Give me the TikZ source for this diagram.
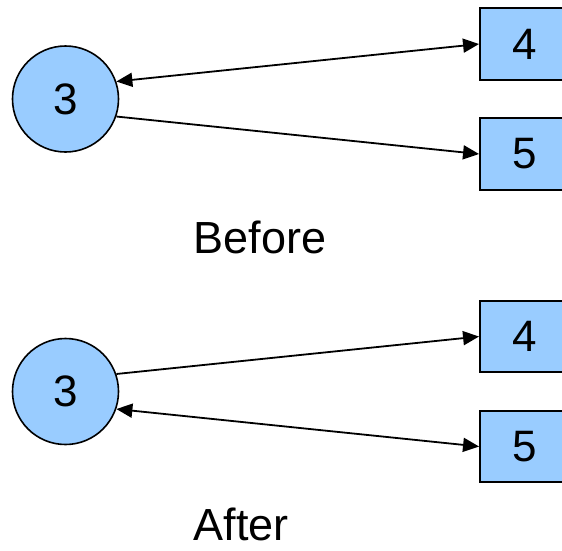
\documentclass[tikz,border=0pt]{standalone}
\usepackage{fontspec}
\setmainfont{Liberation Sans}
\usetikzlibrary{arrows.meta}
\definecolor{cellblue}{HTML}{99CCFF}

\begin{document}
\begin{tikzpicture}[x=1pt,y=-1pt,
  >={Triangle[length=16pt,width=14pt]},
  every node/.style={font=\fontsize{44}{50}\selectfont},
  disc/.style={circle,draw,line width=1.6pt,fill=cellblue,minimum size=106pt,inner sep=0pt},
  cell/.style={rectangle,draw,line width=1.9pt,fill=cellblue,minimum width=89pt,minimum height=71.5pt,inner sep=0pt},
  caption/.style={anchor=base,inner sep=0pt,font=\fontsize{45}{50}\selectfont},
  link/.style={line width=1.8pt}]
\path[use as bounding box,clip] (0,0) rectangle (562,550);
\foreach \k/\y in {1/0,2/292.5}{
  \node[disc] (C\k) at (65.5,99+\y) {3};
  \node[cell] (A\k) at (524.5,44+\y) {4};
  \node[cell] (B\k) at (524.5,154+\y) {5};
}
\draw[link,<->] (C1.19)--(A1.west);
\draw[link,->] (C1.-19)--(B1.west);
\draw[link,->] (C2.19)--(A2.west);
\draw[link,<->] (C2.-19)--(B2.west);
\node[caption] (before) at (260,253.3) {Before};
\node[caption] (after) at (241,540) {After};
\end{tikzpicture}
\end{document}
